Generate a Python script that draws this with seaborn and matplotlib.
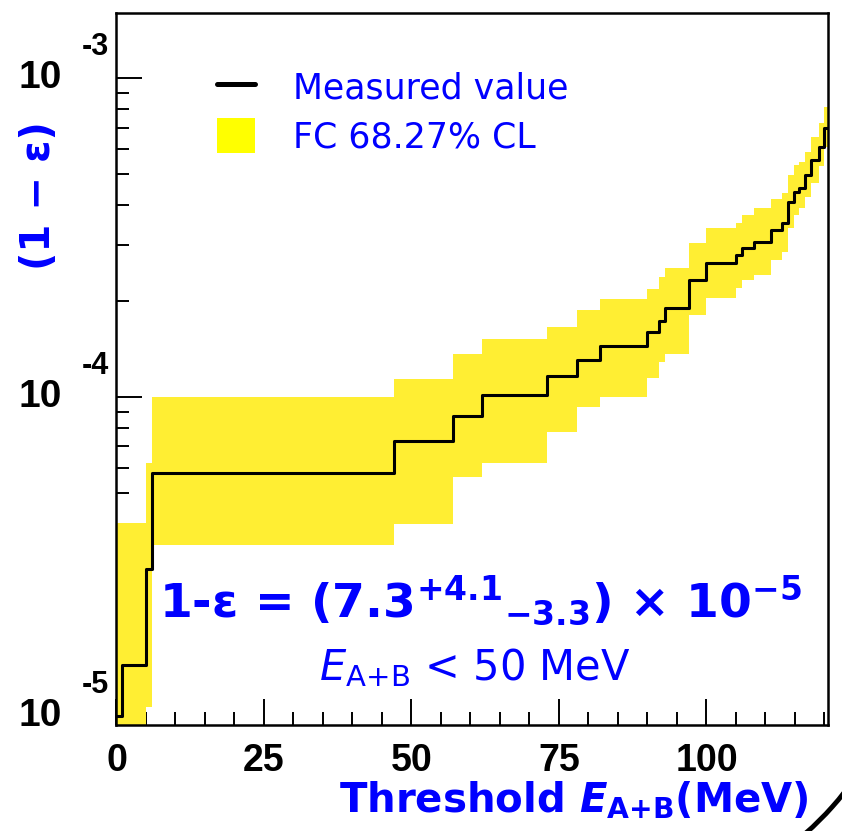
import numpy as np
import pandas as pd
import matplotlib
matplotlib.use("Agg")
import matplotlib.pyplot as plt
import matplotlib.transforms as mtransforms
import seaborn as sns
from matplotlib.lines import Line2D
from matplotlib.patches import Patch, Arc
from matplotlib.ticker import MultipleLocator, LogLocator, NullFormatter, FixedLocator

# ---------------- data (values in units of 1e-5) ----------------
bin_edges = [0, 1, 5, 6, 47, 57, 62, 73, 78, 82, 90, 92, 93, 97, 100, 105, 106,
             108, 111, 112.8, 113.8, 114.8, 115.7, 116.7, 117.7, 119, 120, 120.6]
measured = [1.0, 1.44, 2.9, 5.78, 7.3, 8.74, 10.15, 11.64, 13.06, 14.48, 15.95,
            17.34, 18.97, 23.2, 26.25, 27.86, 29.24, 30.55, 33.38, 35.03, 40.94,
            44.0, 45.3, 49.65, 55.3, 60.9, 69.6]
fc_low = [0.5, 0.5, 1.07, 3.44, 4.0, 5.60, 6.22, 7.75, 9.28, 9.98, 11.44, 12.9,
          13.64, 18.1, 20.39, 21.92, 23.27, 24.12, 26.88, 28.53, 33.8, 37.2,
          39.05, 42.45, 46.76, 52.96, 60.9]
fc_high = [4.03, 4.03, 6.2, 10.0, 11.4, 13.6, 15.17, 16.57, 18.74, 20.24, 21.76,
           23.82, 25.43, 30.4, 33.8, 35.03, 37.2, 39.05, 41.66, 43.5, 49.65,
           53.4, 54.65, 58.75, 65.46, 72.1, 81.3]
x_ticks = [0, 25, 50, 75, 100]
x_tick_labels = ["0", "25", "50", "75", "100"]
y_decades = [1e-5, 1e-4, 1e-3]
y_decade_exps = ["-5", "-4", "-3"]
legend_labels = ["Measured value", "FC 68.27% CL"]

scale = 1e-5
df = pd.DataFrame({
    "E": bin_edges,
    "val": [v * scale for v in measured + [measured[-1]]],
    "lo": [v * scale for v in fc_low + [fc_low[-1]]],
    "hi": [v * scale for v in fc_high + [fc_high[-1]]],
})

# ---------------- style ----------------
sns.set_theme(style="ticks")
plt.rcParams["font.family"] = ["DejaVu Sans"]
plt.rcParams["mathtext.fontset"] = "custom"
plt.rcParams["mathtext.default"] = "regular"
plt.rcParams["mathtext.it"] = "DejaVu Sans:bold:italic"
plt.rcParams["mathtext.sf"] = "DejaVu Sans:italic"
plt.rcParams["mathtext.rm"] = "DejaVu Sans:bold"

BLUE = "#0000ff"
BAND = "#ffee33"

W, H = 842, 831
fig = plt.figure(figsize=(W / 100, H / 100), dpi=100)
fig.patch.set_facecolor("white")
ax = fig.add_axes([116.5 / W, 106 / H, 711.5 / W, 712 / H])
ax.set_facecolor("white")

# band
ax.fill_between(df["E"], df["lo"], df["hi"], step="post", color=BAND, lw=0, zorder=1)
# measured step line
sns.lineplot(data=df, x="E", y="val", drawstyle="steps-post", estimator=None,
             sort=False, color="black", lw=2.2, ax=ax, zorder=3)

ax.set_yscale("log")
ax.set_xlim(0, 120.6)
ax.set_ylim(9.37e-6, 1.6e-3)

# axes frame
for s in ax.spines.values():
    s.set_linewidth(1.8)
    s.set_color("black")
    s.set_zorder(5)

ax.xaxis.set_major_locator(FixedLocator(x_ticks))
ax.xaxis.set_minor_locator(MultipleLocator(5))
ax.set_xticklabels(x_tick_labels)
ax.yaxis.set_major_locator(LogLocator(base=10, numticks=10))
ax.yaxis.set_minor_locator(LogLocator(base=10, subs=np.arange(2, 10), numticks=20))
ax.yaxis.set_major_formatter(NullFormatter())
ax.yaxis.set_minor_formatter(NullFormatter())
ax.tick_params(which="major", direction="in", length=18.5, width=1.4,
               top=False, right=False, color="black")
ax.tick_params(which="minor", direction="in", length=9.3, width=1.4,
               top=False, right=False, color="black")
ax.tick_params(axis="x", which="major", pad=13)
for lab in ax.get_xticklabels():
    lab.set_fontfamily("Liberation Sans")
    lab.set_fontweight("bold")
    lab.set_fontsize(27)
    lab.set_color("black")

# y decade labels in ROOT style: "10" with raised exponent
tr = mtransforms.blended_transform_factory(ax.transAxes, ax.transData)
tr_up = mtransforms.offset_copy(tr, fig=fig, x=0, y=31, units="dots")
for yv, ex in zip(y_decades, y_decade_exps):
    ax.text(-0.0766, yv, "10", transform=tr, ha="right", va="center",
            fontfamily="Liberation Sans", fontweight="bold", fontsize=28,
            color="black")
    ax.text(-0.0485, yv, ex, transform=tr_up, ha="left", va="center",
            fontfamily="Liberation Sans", fontweight="bold", fontsize=22,
            color="black")

# axis labels
ax.set_ylabel("(1 − ε)", color=BLUE, fontweight="bold", fontsize=29, va="center")
ax.yaxis.set_label_coords(-0.1096, (725 - 196) / 712)
ax.set_xlabel(r"Threshold $\mathit{E}_{A{+}B}$(MeV)", color=BLUE,
              fontweight="bold", fontsize=29, ha="right", va="top")
ax.xaxis.set_label_coords((808 - 116.5) / 711.5, -(780 - 725) / 712)

# legend
handles = [Line2D([], [], color="black", lw=3.6),
           Patch(facecolor="#ffff00", edgecolor="none")]
ax.legend(handles=handles, labels=legend_labels, loc="upper left",
          bbox_to_anchor=(0.141, (725 - 70) / 712), frameon=False, fontsize=25,
          handlelength=1.1, handleheight=1.15, handletextpad=1.1,
          labelspacing=0.35, borderpad=0, borderaxespad=0, labelcolor=BLUE)

# annotation
ax.text((481 - 116.5) / 711.5, (725 - 601) / 712,
        r"1-ε = (7.3$^{+4.1}{}_{-3.3}$) × 10$^{-5}$",
        transform=ax.transAxes, ha="center", va="center", color=BLUE,
        fontweight="bold", fontsize=34, zorder=6)
ax.text((475 - 116.5) / 711.5, (725 - 668) / 712,
        r"$\mathsf{E}_{A{+}B}$ < 50 MeV",
        transform=ax.transAxes, ha="center", va="center", color=BLUE,
        fontsize=30, zorder=6)

# decorative corner arc
fig.add_artist(Arc((600 / W, 231 / H), 2 * 311 / W, 2 * 311 / H,
                   theta1=-56, theta2=-28, transform=fig.transFigure,
                   color="black", lw=3.5, clip_on=False))

fig.savefig("out.png", dpi=100)
